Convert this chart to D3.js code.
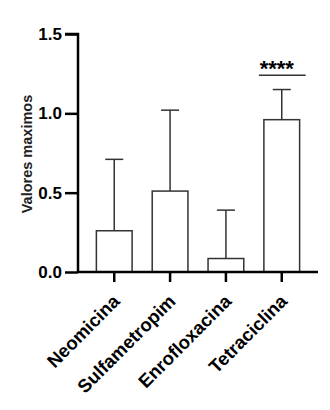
<!DOCTYPE html>
<html lang="en">
<head>
  <meta charset="UTF-8">
  <title>Valores maximos</title>
  <style>
    body { margin: 0; background: #fff; }
  </style>
</head>
<body>
  <svg id="svg" width="330" height="410"></svg>

  <script src="https://d3js.org/d3.v7.min.js"></script>
  <script>
    // data
    const categories = ['Neomicina', 'Sulfametropim', 'Enrofloxacina', 'Tetraciclina']
    const means = [0.26, 0.51, 0.085, 0.96]
    const errTops = [0.71, 1.02, 0.39, 1.15]
    const tickValues = [0, 0.5, 1.0, 1.5]
    const sigLabel = '****'
    const sigHeight = 1.24

    // layout
    const margin = { top: 34, left: 78, right: 12 }
    const plotBottom = 272
    const plotRight = 318

    const svg = d3.select('#svg')

    // ------ SCALES ------------------------
    const xscale = d3.scaleBand()
      .domain(categories)
      .range([88, 308])
      .paddingInner(0.36)
      .paddingOuter(0.15)

    const yscale = d3.scaleLinear()
      .domain([0, 1.5])
      .range([plotBottom, margin.top])

    // ------ BARS ------------------------
    const bars = categories.map((c, i) => ({ name: c, value: means[i], err: errTops[i] }))

    // error bars (drawn first so the bar outline sits on top)
    svg.selectAll('line.err')
      .data(bars)
      .enter()
      .append('line')
      .attr('class', 'err')
      .attr('x1', d => xscale(d.name) + xscale.bandwidth() / 2)
      .attr('x2', d => xscale(d.name) + xscale.bandwidth() / 2)
      .attr('y1', d => yscale(d.value))
      .attr('y2', d => yscale(d.err))
      .attr('stroke', '#333')
      .attr('stroke-width', 1.5)

    svg.selectAll('line.cap')
      .data(bars)
      .enter()
      .append('line')
      .attr('class', 'cap')
      .attr('x1', d => xscale(d.name) + xscale.bandwidth() / 2 - 9)
      .attr('x2', d => xscale(d.name) + xscale.bandwidth() / 2 + 9)
      .attr('y1', d => yscale(d.err))
      .attr('y2', d => yscale(d.err))
      .attr('stroke', '#333')
      .attr('stroke-width', 1.5)

    svg.selectAll('rect')
      .data(bars)
      .enter()
      .append('rect')
      .attr('x', d => xscale(d.name))
      .attr('y', d => yscale(d.value))
      .attr('width', xscale.bandwidth())
      .attr('height', d => plotBottom - yscale(d.value))
      .attr('fill', '#fff')
      .attr('stroke', '#333')
      .attr('stroke-width', 1.5)

    // ------ AXES ------------------------
    const leftAxis = d3.axisLeft(yscale)
      .tickValues(tickValues)
      .tickFormat(d3.format('.1f'))
      .tickSize(13)
      .tickPadding(3)

    const yAxisG = svg.append('g')
      .attr('transform', `translate(${margin.left}, 0)`)
      .call(leftAxis)
    yAxisG.select('.domain')
      .attr('d', `M-13,${yscale(1.5)}H0V${plotBottom}`)
    yAxisG.selectAll('path, line')
      .attr('stroke', '#000')
      .attr('stroke-width', 2.5)
    yAxisG.selectAll('text')
      .style('font-family', 'Liberation Sans, Arial, sans-serif')
      .style('font-size', '17px')
      .style('font-weight', 'bold')
      .attr('fill', '#000')

    const bottomAxis = d3.axisBottom(xscale)
      .tickSize(10)
      .tickSizeOuter(0)
      .tickFormat('')

    const xAxisG = svg.append('g')
      .attr('transform', `translate(0, ${plotBottom})`)
      .call(bottomAxis)
    xAxisG.select('.domain')
      .attr('d', `M${margin.left},0H${plotRight}`)
    xAxisG.selectAll('path, line')
      .attr('stroke', '#000')
      .attr('stroke-width', 2.5)

    // rotated category labels
    svg.append('g')
      .selectAll('text')
      .data(categories)
      .enter()
      .append('text')
      .attr('transform', d => `translate(${xscale(d) + xscale.bandwidth() / 2 + 2}, ${plotBottom + 26}) rotate(-45)`)
      .attr('text-anchor', 'end')
      .attr('dy', '0.35em')
      .style('font-family', 'Liberation Sans, Arial, sans-serif')
      .style('font-size', '18.5px')
      .style('font-weight', 'bold')
      .text(d => d)

    // y label
    svg.append('text')
      .attr('transform', `translate(32, ${(yscale(0.5) + yscale(1.0)) / 2 + 1}) rotate(-90)`)
      .attr('text-anchor', 'middle')
      .style('font-family', 'Liberation Sans, Arial, sans-serif')
      .style('font-size', '14.5px')
      .style('font-weight', 'bold')
      .attr('fill', '#222')
      .text('Valores maximos')

    // ------ SIGNIFICANCE ------------------------
    const last = categories[categories.length - 1]
    const sx = xscale(last)
    svg.append('line')
      .attr('x1', sx - 5)
      .attr('x2', sx + xscale.bandwidth() + 6)
      .attr('y1', yscale(sigHeight))
      .attr('y2', yscale(sigHeight))
      .attr('stroke', '#333')
      .attr('stroke-width', 1.5)

    svg.append('text')
      .attr('x', sx + xscale.bandwidth() / 2 - 5)
      .attr('y', yscale(sigHeight) + 0.5)
      .attr('text-anchor', 'middle')
      .style('font-family', 'Liberation Sans, Arial, sans-serif')
      .style('font-size', '22px')
      .style('font-weight', 'bold')
      .text(sigLabel)
  </script>
</body>
</html>
